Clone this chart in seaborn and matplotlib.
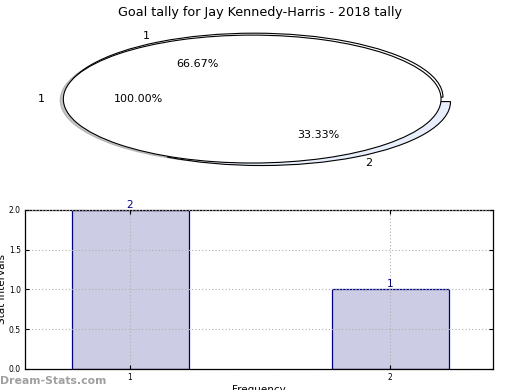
import matplotlib
matplotlib.use("Agg")
import matplotlib.pyplot as plt
import pandas as pd
import seaborn as sns

# Data
tally_labels = ["1", "2"]
tally_values = [2, 1]
total_labels = ["1"]
total_values = [1]
bar_x = ["1", "2"]
bar_y = [2, 1]
y_ticks = [0.0, 0.5, 1.0, 1.5, 2.0]

sns.set_style("white")
plt.rcParams["font.family"] = ["DejaVu Sans"]
plt.rcParams["text.color"] = "black"
plt.rcParams["axes.labelcolor"] = "black"
plt.rcParams["xtick.color"] = "black"
plt.rcParams["ytick.color"] = "black"

fig = plt.figure(figsize=(5.2, 3.9), dpi=100)
fig.suptitle("Goal tally for Jay Kennedy-Harris - 2018 tally", fontsize=9.2, y=0.985)

# Pie (drawn twice like the original: the split and the 100% overlay)
ax_pie = fig.add_axes([0.031, 0.541, 0.908, 0.41])
ax_pie.pie(tally_values, labels=tally_labels, autopct="%1.2f%%",
           colors=["white", "#e8eefb"], explode=(0, 0.08), center=(0.01, 0.03),
           wedgeprops=dict(edgecolor="black", linewidth=0.8),
           textprops=dict(fontsize=8))
ax_pie.pie(total_values, labels=total_labels, autopct="%1.2f%%",
           shadow=dict(ox=-0.012, oy=-0.012, shade=0.45),
           colors=["white"], wedgeprops=dict(edgecolor="black", linewidth=0.8),
           textprops=dict(fontsize=8))
ax_pie.set_aspect("auto")
ax_pie.set_xlim(-1.25, 1.25)
ax_pie.set_ylim(-1.25, 1.25)

# Bar chart
df = pd.DataFrame({"goals": bar_x, "count": bar_y})
ax = fig.add_axes([0.048, 0.054, 0.9, 0.4077])
sns.barplot(data=df, x="goals", y="count", order=bar_x, width=0.45,
            color="#ccccE4", saturation=1, edgecolor="#000080", linewidth=0.9, ax=ax)
for i, v in enumerate(bar_y):
    ax.text(i, v, str(v), ha="center", va="bottom", color="#000080", fontsize=7.5)

ax.set_xlim(-0.404, 1.396)
ax.set_ylim(0, 2)
ax.set_yticks(y_ticks)
ax.set_yticklabels([f"{t:.1f}" for t in y_ticks])
ax.set_axisbelow(False)
ax.grid(True, linestyle=(0, (1, 2)), color="#b0b0b0", linewidth=0.8)
ax.tick_params(direction="in", labelsize=5.5, length=3, top=True, right=True,
               bottom=True, left=True, pad=3)
for s in ax.spines.values():
    s.set_color("black")
    s.set_linewidth(0.9)
ax.set_xlabel("Frequency", fontsize=7.5)
ax.set_ylabel("Stat Intervals", fontsize=7.5)
ax.xaxis.set_label_coords(0.5, -0.1)
ax.yaxis.set_label_coords(-0.038, 0.5)

fig.text(0.0, 0.015, "Dream-Stats.com", color="#a0a0a0", fontsize=7.8, fontweight="bold")

fig.savefig("out.png", dpi=100)
